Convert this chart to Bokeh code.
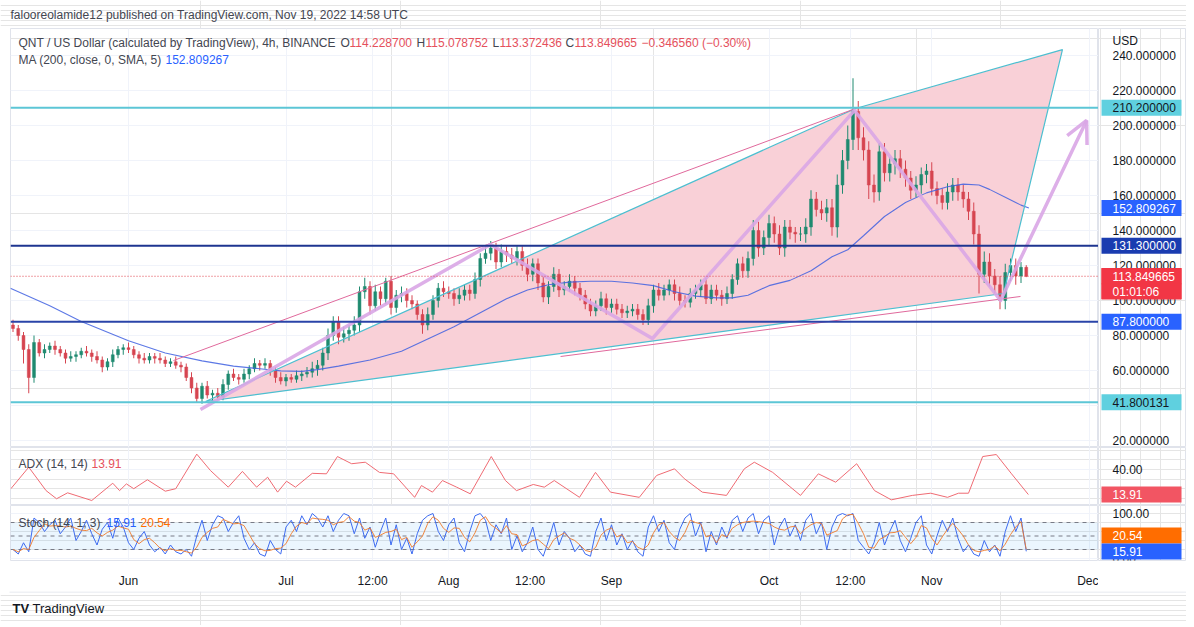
from bokeh.plotting import figure
from bokeh.layouts import column, row
from bokeh.models import (Range1d, Span, Label, FixedTicker, Grid,
                          Arrow, OpenHead, ColumnDataSource, BoxAnnotation)
from bokeh.core.properties import value
from bokeh.embed import file_html
from bokeh.resources import INLINE

# ---------------- data (x = days from 2022-06-01) ----------------
first_day = -22
first_open = 86.0
closes = [
    84, 80, 72, 56, 76, 70, 72, 74, 72, 70,
    67, 68, 69, 71, 70, 68, 66, 62, 65, 69,
    72, 73, 72, 69, 67, 66, 68, 67, 66, 64,
    65, 63, 62, 56, 50, 44, 51, 46, 47, 45,
    52, 58, 56, 55, 58, 61, 64, 63, 64, 60,
    56, 54, 56, 55, 57, 58, 59, 61, 63, 70,
    80, 88, 79, 81, 83, 86, 105, 108, 97, 105,
    101, 111, 96, 103, 104, 100, 98, 92, 86, 92,
    100, 107, 105, 104, 101, 103, 106, 104, 112, 124,
    127, 130, 122, 128, 126, 124, 128, 120, 115, 121,
    110, 102, 108, 115, 106, 108, 111, 107, 103, 98,
    94, 97, 101, 96, 98, 95, 93, 94, 95, 92,
    89, 97, 106, 103, 106, 109, 104, 100, 99, 104,
    106, 109, 101, 106, 103, 101, 104, 112, 121, 117,
    124, 140, 130, 136, 144, 138, 130, 142, 139, 138,
    138, 142, 158, 152, 150, 153, 142, 166, 180, 192,
    208, 193, 186, 166, 162, 185, 173, 178, 181, 175,
    170, 163, 166, 172, 174, 164, 160, 156, 162, 166,
    162, 158, 151, 138, 115, 122, 114, 109, 100, 116,
    120, 114, 119, 113.85]
wick_up = [
    3, 2, 2, 3, 4, 2, 3, 2, 3, 2,
    2, 3, 2, 2, 3, 2, 3, 2, 2, 3,
    2, 2, 3, 2, 2, 3, 2, 2, 3, 2,
    2, 3, 2, 2, 3, 3, 2, 3, 2, 3,
    3, 2, 3, 2, 3, 2, 3, 2, 3, 2,
    2, 3, 2, 2, 3, 2, 3, 4, 3, 3,
    4, 3, 3, 4, 3, 5, 3, 5, 3, 4,
    3, 2, 3, 3, 4, 3, 3, 2, 3, 4,
    3, 3, 4, 3, 3, 4, 3, 3, 4, 3,
    4, 4, 3, 4, 3, 4, 3, 3, 4, 3,
    3, 4, 3, 4, 3, 3, 4, 3, 3, 3,
    3, 3, 4, 3, 3, 3, 3, 3, 3, 3,
    3, 4, 3, 4, 3, 3, 3, 4, 3, 3,
    3, 3, 4, 3, 3, 3, 4, 3, 3, 4,
    4, 6, 5, 4, 5, 4, 5, 4, 4, 3,
    4, 5, 5, 4, 5, 5, 5, 6, 6, 8,
    19, 6, 6, 5, 6, 5, 5, 4, 5, 5,
    5, 4, 5, 4, 4, 5, 4, 4, 5, 4,
    4, 4, 4, 5, 5, 6, 5, 4, 5, 5,
    4, 4, 3, 1.2]
wick_dn = [
    2, 3, 8, 9, 3, 2, 3, 2, 3, 2,
    3, 2, 3, 2, 2, 3, 2, 3, 2, 3,
    2, 3, 2, 2, 3, 2, 2, 3, 2, 2,
    2, 2, 3, 2, 3, 2.5, 3, 2, 3, 2,
    2, 3, 2, 3, 2, 3, 2, 3, 2, 3,
    3, 2, 3, 2, 2, 3, 2, 3, 4, 3,
    4, 3, 4, 3, 4, 3, 4, 4, 5, 3,
    4, 3, 4, 3, 4, 4, 3, 3, 5, 3,
    3, 4, 3, 3, 4, 3, 3, 4, 3, 4,
    3, 4, 4, 3, 4, 3, 4, 3, 4, 4,
    4, 3, 4, 3, 4, 3, 3, 4, 3, 3,
    3, 3, 3, 4, 3, 3, 3, 3, 3, 3,
    3, 3, 4, 3, 3, 3, 4, 3, 3, 3,
    3, 4, 3, 3, 3, 4, 3, 3, 3, 4,
    4, 4, 5, 4, 5, 5, 4, 5, 4, 5,
    4, 5, 5, 4, 4, 5, 5, 6, 5, 5,
    6, 7, 6, 8, 6, 5, 5, 5, 6, 5,
    5, 5, 4, 5, 5, 4, 5, 4, 4, 5,
    5, 5, 5, 6, 11, 5, 6, 5, 5, 5,
    5, 5, 4, 0.5]

ma_days = [-22.5, -15, -9, 0, 7, 14, 20, 25, 29, 33, 36, 40, 46, 52, 57, 62, 67, 72, 76, 80,
           84, 88, 92, 96, 100, 104, 108, 112, 115, 118, 122, 126, 130, 134, 137, 140, 144, 148,
           152, 156, 159, 162, 164, 167, 170, 171.5]
ma_vals = [107, 97, 88, 77, 70, 65.5, 62.5, 61, 59.8, 59.5, 60.5, 62.5, 66, 71, 78, 85, 93, 101, 106, 109,
           110.5, 111, 111, 110, 108.5, 105, 102.5, 101.5, 101.5, 103, 108.5, 111.5, 117, 125, 129, 137, 148, 156,
           161.5, 165, 166.5, 166, 163.5, 159, 154.5, 152.8]

adx_days = [-22.4, -19.0, -15.7, -13.7, -11.6, -7.0, -3.0, -1.7, -0.4, 1.0,
            3.6, 7.0, 9.0, 13.0, 15.6, 19.0, 21.7, 24.4, 26.5, 28.4,
            30.1, 31.8, 35.0, 37.7, 39.8, 42.5, 45.1, 47.8, 50.5, 54.5,
            55.8, 57.9, 59.8, 62.5, 65.1, 69.1, 71.8, 73.9, 77.1, 79.2,
            81.1, 85.9, 88.95, 91.8, 97.3, 100.6, 104.0, 105.9, 109.3, 113.9,
            117.3, 119.2, 122.7, 128.0, 131.4, 134.7, 138.7, 142.1, 145.3, 149.3,
            152.8, 156.0, 158.1, 160.0, 162.7, 165.3, 168.2, 171.4]
adx_vals = [20, 42.4, 18, 9.5, 15.7, 7.7, 25.7, 18, 25, 20,
            29.3, 17.4, 20, 56, 39, 21.6, 38, 21.6, 32, 16.4,
            27.8, 21.6, 36, 35.5, 53.5, 46, 47.6, 37, 35.5, 11,
            23.3, 16.4, 28.5, 21.6, 14.7, 53.5, 28.5, 18, 24.4, 21.6,
            28.5, 11, 37, 16.4, 11, 33.8, 40.7, 30.3, 16.4, 13,
            40.7, 47.6, 37, 13, 35.5, 26.8, 46, 18, 8.4, 13,
            15.3, 11, 15.3, 15.3, 53.5, 55.6, 35.5, 13.91]

stoch_k = [
    20, 10, 35, 15, 90, 80, 60, 75, 85, 55,
    70, 90, 40, 60, 85, 55, 30, 65, 80, 45,
    90, 70, 35, 20, 45, 60, 30, 15, 25, 10,
    30, 15, 10, 20, 5, 50, 85, 40, 75, 95,
    90, 60, 80, 95, 45, 20, 35, 10, 5, 40,
    20, 10, 70, 85, 60, 95, 75, 100, 90, 70,
    95, 60, 85, 100, 95, 55, 90, 45, 70, 25,
    60, 90, 30, 75, 20, 45, 10, 55, 85, 95,
    100, 60, 40, 75, 90, 35, 15, 60, 95, 100,
    85, 40, 75, 55, 90, 20, 50, 15, 35, 70,
    20, 5, 40, 80, 30, 60, 45, 15, 30, 10,
    5, 60, 90, 40, 75, 30, 55, 20, 40, 15,
    5, 70, 95, 60, 85, 35, 20, 65, 90, 100,
    50, 80, 15, 60, 30, 70, 45, 85, 95, 60,
    90, 100, 55, 85, 95, 30, 70, 90, 50, 75,
    40, 85, 100, 55, 80, 20, 70, 95, 100, 95,
    100, 40, 25, 10, 35, 80, 30, 60, 85, 40,
    15, 45, 80, 95, 30, 10, 50, 85, 60, 90,
    45, 15, 30, 10, 5, 40, 15, 30, 5, 60,
    95, 60, 90, 15.91]
stoch_d = [
    20, 15, 22, 20, 47, 62, 77, 72, 73, 72,
    70, 72, 67, 63, 62, 67, 57, 50, 58, 63,
    72, 68, 65, 42, 33, 42, 45, 35, 23, 17,
    22, 18, 18, 15, 12, 25, 47, 58, 67, 70,
    87, 82, 77, 78, 73, 53, 33, 22, 17, 18,
    22, 23, 33, 55, 72, 80, 77, 90, 88, 87,
    85, 75, 80, 82, 93, 83, 80, 63, 68, 47,
    52, 58, 60, 65, 42, 47, 25, 37, 50, 78,
    93, 85, 67, 58, 68, 67, 47, 37, 57, 85,
    93, 75, 67, 57, 73, 55, 53, 28, 33, 40,
    42, 32, 22, 42, 50, 57, 45, 40, 30, 18,
    15, 25, 52, 63, 68, 48, 53, 35, 38, 25,
    20, 30, 57, 75, 80, 60, 47, 40, 58, 85,
    80, 77, 48, 52, 35, 53, 48, 67, 75, 80,
    82, 83, 82, 80, 78, 70, 65, 63, 70, 72,
    55, 67, 75, 80, 78, 52, 57, 62, 88, 97,
    98, 78, 55, 25, 23, 42, 48, 57, 58, 62,
    47, 33, 47, 73, 68, 45, 30, 48, 65, 78,
    65, 50, 30, 18, 15, 18, 20, 28, 17, 32,
    53, 70, 82, 20.54]

# drawings (day, price)
wedge_days = [14.67, 138.48, 177.9, 166.67]
wedge_prices = [42.3, 209.7, 243.4, 104.0]
chan_top_days = [8.57, 138.48]
chan_top_prices = [65.7, 209.7]
chan_bot_days = [82.3, 169.9]
chan_bot_prices = [68.0, 102.3]
wave_days = [13.71, 68.95, 99.8, 138.3, 166.1, 182.5]
wave_prices = [37.7, 132.0, 78.3, 208.6, 100.0, 202.9]

level_cyan = [210.2, 41.800131]
level_top = 131.3
level_low = 87.8
last_price = 113.849665
ma_last = 152.809267
adx_last = 13.91
k_last, d_last = 15.91, 20.54

tick_days = [0, 30, 46.5, 61, 76.5, 92, 122, 137.5, 153, 183]
tick_labels = ["Jun", "Jul", "12:00", "Aug", "12:00", "Sep", "Oct", "12:00", "Nov", "Dec"]
price_ticks = [20, 40, 60, 80, 100, 120, 140, 160, 180, 200, 220, 240]
adx_ticks = [40]
stoch_ticks = [0, 100]

# ---------------- helpers (pixel placement of annotations) ----------------
FONT = "Liberation Sans"
def dx(px): return (px - 128.0) / 5.25
def py(px): return 20 + (440.0 - px) / 1.75
def pa(px): return 40 + (469.0 - px) / 0.96
def ps(px): return 80 + (522.0 - px) / 0.45

X0, X1 = dx(10), dx(1098)
GRID = "#f0f3fa"
EDGE = "#e0e3eb"
xr = Range1d(X0, X1)

def pane(height, yr, yticks, bottom=0, xaxis=False):
    p = figure(width=1098, height=height, x_range=xr, y_range=yr,
               x_axis_location="below" if xaxis else None, y_axis_location=None,
               toolbar_location=None, output_backend="svg",
               min_border_left=10, min_border_right=0, min_border_top=0, min_border_bottom=bottom)
    p.background_fill_color = "white"
    p.border_fill_color = "white"
    p.outline_line_color = EDGE
    p.add_layout(Grid(dimension=1, ticker=FixedTicker(ticks=yticks), grid_line_color=GRID))
    if not xaxis:
        p.add_layout(Grid(dimension=0, ticker=FixedTicker(ticks=tick_days), grid_line_color=GRID))
    return p

def scale_col(height, yr, ticks, fmt, bottom=0):
    a = figure(width=88, height=height, x_range=Range1d(1098, 1186), y_range=yr,
               x_axis_location=None, y_axis_location=None, toolbar_location=None,
               output_backend="svg", min_border_left=0, min_border_right=0,
               min_border_top=0, min_border_bottom=bottom)
    a.background_fill_color = "white"
    a.border_fill_color = "white"
    a.outline_line_color = EDGE
    a.text(x=[1112] * len(ticks), y=ticks, text=[fmt.format(t) for t in ticks],
           text_font=value(FONT), text_font_size=value("12px"), text_color="#131722",
           text_baseline="middle", text_align="left")
    return a

def tag(a, y, label, bg, fg="white", h=16):
    a.rect(x=[1141], y=[y], width=80, height=h, height_units="screen",
           fill_color=bg, line_color=None)
    a.text(x=[1112], y=[y], text=[label], text_font=value(FONT),
           text_font_size=value("12px"), text_color=fg, text_baseline="middle", text_align="left")

def txt(p, x, y, text, color="#434651", size="12px"):
    p.add_layout(Label(x=x, y=y, text=text, text_font=FONT, text_font_size=size, text_color=color,
                       text_baseline="middle", text_align="left"))

def strip(height, top_px):
    f = figure(width=1186, height=height, x_range=Range1d(0, 1186),
               y_range=Range1d(top_px + height, top_px),
               x_axis_location=None, y_axis_location=None, toolbar_location=None,
               output_backend="svg", min_border=0)
    f.outline_line_color = None
    f.background_fill_color = "white"
    f.border_fill_color = "white"
    return f

# ---------------- header ----------------
header = strip(28, 0)
header.text(x=[10], y=[14], text=["falooreolamide12 published on TradingView.com, Nov 19, 2022 14:58 UTC"],
            text_font=value(FONT), text_font_size=value("12px"), text_color="#434651",
            text_baseline="middle", text_align="left")

# ---------------- main pane ----------------
main_yr = Range1d(py(447), py(28))
main = pane(419, main_yr, price_ticks)
main.patch(wedge_days, wedge_prices, fill_color="#f9d0d7", fill_alpha=1.0, line_color=None)

days = [first_day + i for i in range(len(closes))]
opens = [first_open] + closes[:-1]
highs = [max(o, c) + u for o, c, u in zip(opens, closes, wick_up)]
lows = [min(o, c) - d for o, c, d in zip(opens, closes, wick_dn)]
GREEN, RED = "#1f8a70", "#d64550"
for rising, col in ((True, GREEN), (False, RED)):
    idx = [i for i in range(len(closes)) if (closes[i] >= opens[i]) == rising]
    src = ColumnDataSource(dict(
        x=[days[i] for i in idx],
        top=[max(opens[i], closes[i]) for i in idx],
        bottom=[min(opens[i], closes[i]) for i in idx],
        high=[highs[i] for i in idx], low=[lows[i] for i in idx]))
    main.segment(x0="x", y0="high", x1="x", y1="low", source=src, line_color=col, line_width=1)
    main.vbar(x="x", width=0.55, top="top", bottom="bottom", source=src,
              fill_color=col, line_color=col, line_width=0.5)

main.line(ma_days, ma_vals, line_color="#4060e0", line_width=1.1, line_alpha=0.85)

CYAN = "#4cbfd0"
main.line(wedge_days + [wedge_days[0]], wedge_prices + [wedge_prices[0]], line_color=CYAN, line_width=1.2)
main.line(chan_top_days, chan_top_prices, line_color="#e0699c", line_width=1)
main.line(chan_bot_days, chan_bot_prices, line_color="#e0699c", line_width=1)

LAV = "#d9a6e5"
main.line(wave_days, wave_prices, line_color=LAV, line_width=3.5, line_alpha=0.9, line_join="round")
main.add_layout(Arrow(end=OpenHead(size=22, line_color=LAV, line_width=3.5, line_alpha=0.9),
                      x_start=wave_days[-2], y_start=wave_prices[-2],
                      x_end=wave_days[-1], y_end=wave_prices[-1],
                      line_color=LAV, line_width=3.5, line_alpha=0.0))

for lv in level_cyan:
    main.add_layout(Span(location=lv, dimension="width", line_color="#5cc6d6", line_width=2))
main.add_layout(Span(location=level_top, dimension="width", line_color="#1e3590", line_width=2))
main.add_layout(Span(location=level_low, dimension="width", line_color="#2a44a8", line_width=2))
main.add_layout(Span(location=last_price, dimension="width", line_color="#e0404a",
                     line_width=1, line_dash="1 2"))

txt(main, dx(18), py(42), "QNT / US Dollar (calculated by TradingView), 4h, BINANCE")
RED_T = "#e5505c"
for lx, letter, nx, num in ((340, "O", 349, "114.228700"), (416, "H", 425, "115.078752"),
                            (492, "L", 499, "113.372436"), (565, "C", 574, "113.849665")):
    txt(main, dx(lx), py(42), letter)
    txt(main, dx(nx), py(42), num, color=RED_T)
txt(main, dx(641), py(42), "\u22120.346560 (\u22120.30%)", color=RED_T)
txt(main, dx(18), py(59), "MA (200, close, 0, SMA, 5)")
txt(main, dx(165), py(59), "152.809267", color="#2962ff")

main_ax = scale_col(419, main_yr, price_ticks, "{:.6f}")
main_ax.text(x=[1112], y=[py(40)], text=["USD"], text_font=value(FONT), text_font_size=value("12px"),
             text_color="#131722", text_baseline="middle", text_align="left")
tag(main_ax, level_cyan[0], "210.200000", "#5fd0df", fg="#131722")
tag(main_ax, ma_last, "152.809267", "#2962ff")
tag(main_ax, level_top, "131.300000", "#1a3cb0")
tag(main_ax, py(283), "", "#f23645", h=31)
tag(main_ax, last_price, "113.849665", "#f23645")
tag(main_ax, py(291), "01:01:06", "#f23645")
tag(main_ax, level_low, "87.800000", "#2962ff")
tag(main_ax, level_cyan[1], "41.800131", "#5fd0df", fg="#131722")

# ---------------- ADX pane ----------------
adx_yr = Range1d(pa(505), pa(447))
adx = pane(58, adx_yr, adx_ticks)
adx.line(adx_days, adx_vals, line_color="#ef6b73", line_width=1)
txt(adx, dx(18), pa(463), "ADX (14, 14)")
txt(adx, dx(91), pa(463), "13.91", color=RED_T)
adx_ax = scale_col(58, adx_yr, adx_ticks, "{:.2f}")
tag(adx_ax, adx_last, "13.91", "#f25563")

# ---------------- Stoch pane ----------------
st_yr = Range1d(ps(560), ps(505))
st = pane(86, st_yr, stoch_ticks, bottom=31, xaxis=True)
xa = st.xaxis[0]
xa.ticker = FixedTicker(ticks=tick_days)
xa.major_label_overrides = {t: l for t, l in zip(tick_days, tick_labels)}
xa.axis_line_color = None
xa.major_tick_line_color = None
xa.minor_tick_line_color = None
xa.major_label_text_font = FONT
xa.major_label_text_font_size = "12px"
xa.major_label_text_color = "#131722"
xa.major_label_standoff = 7
st.xgrid.grid_line_color = GRID
st.add_layout(BoxAnnotation(bottom=20, top=80, fill_color="#2196f3", fill_alpha=0.09,
                            line_color=None, level="underlay"))
for lv in (80, 50, 20):
    st.add_layout(Span(location=lv, dimension="width", line_color="#787b86", line_width=1,
                       line_dash="4 4", level="underlay"))
st.line(days, stoch_k, line_color="#3d6bf0", line_width=1)
st.line(days, stoch_d, line_color="#f07a2a", line_width=1, line_alpha=0.9)
txt(st, dx(18), ps(522), "Stoch (14, 1, 3)")
txt(st, dx(106), ps(522), "15.91", color="#2962ff")
txt(st, dx(140), ps(522), "20.54", color="#ff6d00")
st_ax = scale_col(86, st_yr, stoch_ticks, "{:.2f}", bottom=31)
tag(st_ax, ps(535), "20.54", "#ff6d00")
tag(st_ax, ps(551), "15.91", "#2962ff")

# ---------------- footer ----------------
footer = strip(34, 591)
footer.line(x=[9, 1186], y=[591.5, 591.5], line_color=EDGE, line_width=1)
footer.text(x=[12], y=[608], text=["TV"], text_font=value(FONT), text_font_size=value("13px"),
            text_font_style="bold", text_color="#131722", text_baseline="middle", text_align="left")
footer.text(x=[32], y=[608], text=["TradingView"], text_font=value(FONT), text_font_size=value("13px"),
            text_color="#131722", text_baseline="middle", text_align="left")

layout = column(header, row(main, main_ax), row(adx, adx_ax), row(st, st_ax), footer)
open("out.html", "w").write(file_html(layout, INLINE))
